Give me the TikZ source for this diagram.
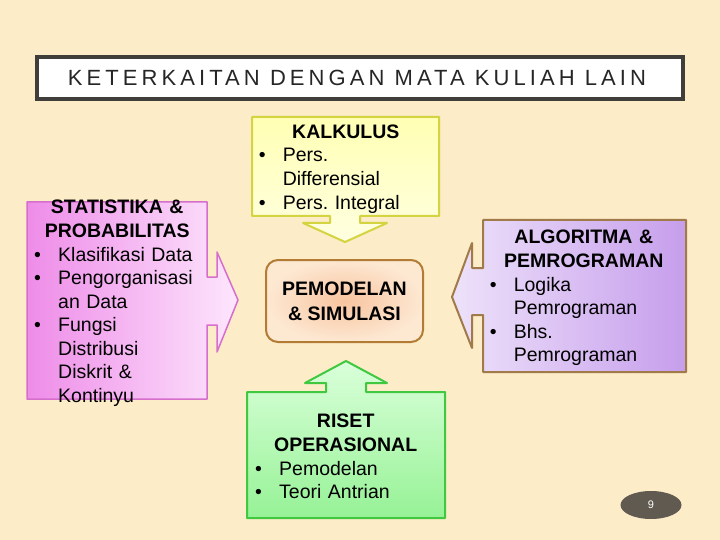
\documentclass[tikz,border=0pt]{standalone}
\usepackage{fontspec}
\setmainfont{Liberation Sans}
\usepackage{tkz-euclide}
\usetikzlibrary{shapes.geometric}
\definecolor{BackClr}{RGB}{252,236,200}
\definecolor{TitleLine}{RGB}{64,62,58}
\definecolor{StatLeft}{RGB}{238,140,232}
\definecolor{StatRight}{RGB}{253,230,253}
\definecolor{StatLine}{RGB}{214,110,204}
\definecolor{KalkTop}{RGB}{255,255,180}
\definecolor{KalkBottom}{RGB}{255,255,225}
\definecolor{KalkLine}{RGB}{212,212,64}
\definecolor{PemoIn}{RGB}{248,196,160}
\definecolor{PemoOut}{RGB}{253,232,210}
\definecolor{PemoLine}{RGB}{178,124,52}
\definecolor{AlgoLeft}{RGB}{238,226,250}
\definecolor{AlgoRight}{RGB}{198,158,236}
\definecolor{AlgoLine}{RGB}{160,122,72}
\definecolor{RisetTop}{RGB}{218,255,218}
\definecolor{RisetBottom}{RGB}{150,242,150}
\definecolor{RisetLine}{RGB}{64,200,64}
\definecolor{PageClr}{RGB}{96,90,80}

\newcommand{\Hd}[1]{\par\noindent\hbox to\hsize{\hss\bfseries #1\hss}}
\newcommand{\Itm}[1]{\par\noindent\hbox to 24pt{\textbullet\hss}#1}
\newcommand{\Nxt}[1]{\par\noindent\hspace*{24pt}#1}
\frenchspacing

\begin{document}
\begin{tikzpicture}[x=1pt,y=1pt,
  boxtext/.style={inner sep=0pt,align=left,anchor=north west,
    font=\fontsize{19.5}{23.6}\selectfont}]
\useasboundingbox (0,0) rectangle (720,-540);
\fill[BackClr] (0,0) rectangle (720,-540);

\node (title) [draw=TitleLine,line width=4pt,fill=white,inner sep=0pt,
  minimum width=646pt,minimum height=42pt,text=black!85,
  font=\fontsize{22}{24}\selectfont\addfontfeature{LetterSpace=18.5}]
  at (360,-78) {\kern-6pt KETERKAITAN DENGAN MATA KULIAH LAIN};

\tkzDefPoint(27,-202){S1}
\tkzDefPoint(207,-202){S2}
\tkzDefPoint(207,-277){S3}
\tkzDefPoint(217,-277){S4}
\tkzDefPoint(217,-252){S5}
\tkzDefPoint(238,-300){S6}
\tkzDefPoint(217,-352){S7}
\tkzDefPoint(217,-325){S8}
\tkzDefPoint(207,-325){S9}
\tkzDefPoint(207,-399){S10}
\tkzDefPoint(27,-399){S11}

\tkzDefPoint(252,-117){K1}
\tkzDefPoint(439,-117){K2}
\tkzDefPoint(439,-216){K3}
\tkzDefPoint(360,-216){K4}
\tkzDefPoint(360,-223){K5}
\tkzDefPoint(387,-223){K6}
\tkzDefPoint(345,-242){K7}
\tkzDefPoint(303,-223){K8}
\tkzDefPoint(330,-223){K9}
\tkzDefPoint(330,-216){K10}
\tkzDefPoint(252,-216){K11}

\tkzDefPoint(483,-220){A1}
\tkzDefPoint(686,-220){A2}
\tkzDefPoint(686,-372){A3}
\tkzDefPoint(483,-372){A4}
\tkzDefPoint(483,-315){A5}
\tkzDefPoint(472,-315){A6}
\tkzDefPoint(472,-348){A7}
\tkzDefPoint(452,-297){A8}
\tkzDefPoint(472,-243){A9}
\tkzDefPoint(472,-268){A10}
\tkzDefPoint(483,-268){A11}

\tkzDefPoint(247,-392){R1}
\tkzDefPoint(326,-392){R2}
\tkzDefPoint(326,-383){R3}
\tkzDefPoint(305,-383){R4}
\tkzDefPoint(346,-361){R5}
\tkzDefPoint(387,-383){R6}
\tkzDefPoint(366,-383){R7}
\tkzDefPoint(366,-392){R8}
\tkzDefPoint(445,-392){R9}
\tkzDefPoint(445,-518){R10}
\tkzDefPoint(247,-518){R11}

\tkzFillPolygon[left color=StatLeft,right color=StatRight](S1,S2,S3,S4,S5,S6,S7,S8,S9,S10,S11)
\tkzDrawPolygon[color=StatLine,line width=1.5pt](S1,S2,S3,S4,S5,S6,S7,S8,S9,S10,S11)

\tkzFillPolygon[top color=KalkTop,bottom color=KalkBottom](K1,K2,K3,K4,K5,K6,K7,K8,K9,K10,K11)
\tkzDrawPolygon[color=KalkLine,line width=2pt](K1,K2,K3,K4,K5,K6,K7,K8,K9,K10,K11)

\tkzFillPolygon[left color=AlgoLeft,right color=AlgoRight](A1,A2,A3,A4,A5,A6,A7,A8,A9,A10,A11)
\tkzDrawPolygon[color=AlgoLine,line width=2pt](A1,A2,A3,A4,A5,A6,A7,A8,A9,A10,A11)

\tkzFillPolygon[top color=RisetTop,bottom color=RisetBottom](R1,R2,R3,R4,R5,R6,R7,R8,R9,R10,R11)
\tkzDrawPolygon[color=RisetLine,line width=2pt](R1,R2,R3,R4,R5,R6,R7,R8,R9,R10,R11)

\node (pemo) [draw=PemoLine,line width=2pt,rounded corners=12pt,
  inner color=PemoIn,outer color=PemoOut,
  minimum width=157pt,minimum height=82pt,align=center,
  font=\bfseries\fontsize{19.5}{25}\selectfont]
  at (344.5,-301) {PEMODELAN\\\& SIMULASI};

\node (stat) [boxtext,text width=166pt] at (34,-190)
  {\Hd{STATISTIKA \&}\Hd{PROBABILITAS}\Itm{Klasifikasi Data}\Itm{Pengorganisasi}\Nxt{an Data}\Itm{Fungsi}\Nxt{Distribusi}\Nxt{Diskrit \&}\Nxt{Kontinyu}};

\node (kalk) [boxtext,text width=174pt] at (258.6,-114.5)
  {\Hd{KALKULUS}\Itm{Pers.}\Nxt{Differensial}\Itm{Pers. Integral}};

\node (algo) [boxtext,text width=188pt] at (489.6,-220)
  {\Hd{ALGORITMA \&}\Hd{PEMROGRAMAN}\Itm{Logika}\Nxt{Pemrograman}\Itm{Bhs.}\Nxt{Pemrograman}};

\node (riset) [boxtext,text width=181pt] at (255,-404)
  {\Hd{RISET}\Hd{OPERASIONAL}\Itm{Pemodelan}\Itm{Teori Antrian}};

\node (page) [ellipse,fill=PageClr,inner sep=0pt,minimum width=61pt,
  minimum height=28pt,text=white,font=\fontsize{11}{11}\selectfont]
  at (651,-505) {9};

\end{tikzpicture}
\end{document}
